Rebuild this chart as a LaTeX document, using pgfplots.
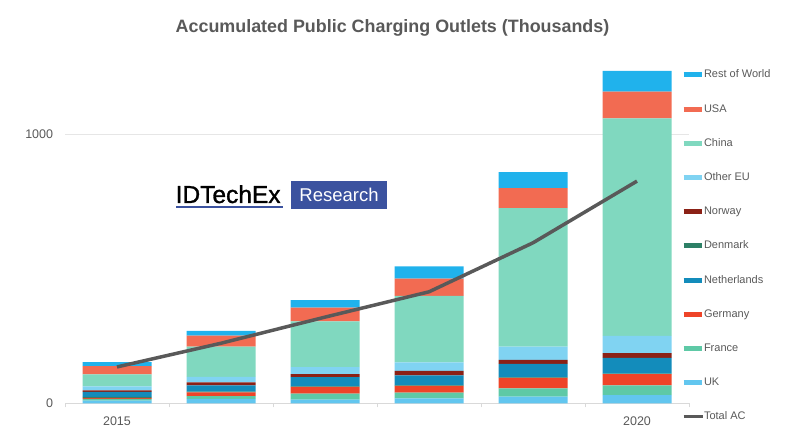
\documentclass[border=0pt]{standalone}
\usepackage{fontspec}
\setmainfont{Liberation Sans}
\newfontfamily\logofont{Liberation Sans}[FakeBold=1.2]
\usepackage{pgfplots}
\pgfplotsset{compat=1.18}
\definecolor{txt}{HTML}{595959}
\definecolor{gridgray}{HTML}{E6E6E6}
\definecolor{axisgray}{HTML}{D9D9D9}
\definecolor{cRoW}{HTML}{20B2EC}
\definecolor{cUSA}{HTML}{F26B52}
\definecolor{cChina}{HTML}{80D8BF}
\definecolor{cOEU}{HTML}{80D3F2}
\definecolor{cNor}{HTML}{8B2116}
\definecolor{cDen}{HTML}{2D8066}
\definecolor{cNed}{HTML}{138CBB}
\definecolor{cGer}{HTML}{EE4428}
\definecolor{cFra}{HTML}{5EC9A6}
\definecolor{cUK}{HTML}{62C6EF}
\definecolor{lineg}{HTML}{595959}
\definecolor{logob}{HTML}{3B529F}
\pgfplotsset{
  legbar/.style={legend image code/.code={\draw[line width=5bp,color=#1] (0bp,0bp) -- (18bp,0bp);}},
  legtot/.style={legend image code/.code={\draw[line width=3bp,color=#1] (0bp,0bp) -- (19bp,0bp);}},
}
\begin{document}
\begin{tikzpicture}
\path[use as bounding box] (0,0) rectangle (800bp,447bp);
\node[anchor=base, inner sep=0pt, text=txt, font=\fontsize{17.9bp}{20bp}\selectfont\bfseries] at (392.5bp,414bp) {Accumulated Public Charging Outlets (Thousands)};
% logo
\node[anchor=base west, inner sep=0pt, text=black, font=\fontsize{24.5bp}{28bp}\logofont] at (175.5bp,244bp) {IDTechEx};
\fill[logob] (176bp,238.5bp) rectangle (283bp,240.5bp);
\fill[logob] (291bp,238bp) rectangle (387bp,266bp);
\node[anchor=base, inner sep=0pt, text=white, font=\fontsize{18.5bp}{20bp}\selectfont] at (339bp,245.4bp) {Research};

\begin{axis}[
  at={(65bp,43.7bp)}, anchor=south west,
  scale only axis, width=624bp, height=344.7bp,
  xmin=-0.5, xmax=5.5, ymin=0, ymax=1280,
  ybar stacked, bar width=69bp,
  axis lines*=left,
  y axis line style={draw=none},
  x axis line style={color=axisgray, line width=0.8bp},
  xtick={0,5}, xticklabels={2015,2020},
  minor xtick={-0.5,0.5,1.5,2.5,3.5,4.5,5.5},
  ytick={0,1000}, yticklabels={0,1000},
  ymajorgrids, grid style={color=gridgray, line width=0.8bp},
  major tick length=0pt, minor tick length=4bp, tick align=outside,
  minor tick style={color=axisgray, line width=0.8bp},
  tick label style={font=\fontsize{12.5bp}{14bp}\selectfont, text=txt, inner sep=0pt},
  xticklabel style={anchor=base, yshift=-22.4bp},
  yticklabel style={anchor=east, xshift=-11.7bp},
  /pgf/number format/assume math mode=true,
  legend style={at={(axis description cs:0.9872,0.970)}, anchor=north west,
    draw=none, fill=none, inner sep=0pt, outer sep=0pt, row sep=22.2bp,
    font=\fontsize{11bp}{13bp}\selectfont, text=txt,
    nodes={inner xsep=0pt, inner ysep=1bp, text height=8bp, text depth=2bp}},
  legend cell align=left,
]
\addlegendimage{legbar=cRoW}\addlegendentry{Rest of World}
\addlegendimage{legbar=cUSA}\addlegendentry{USA}
\addlegendimage{legbar=cChina}\addlegendentry{China}
\addlegendimage{legbar=cOEU}\addlegendentry{Other EU}
\addlegendimage{legbar=cNor}\addlegendentry{Norway}
\addlegendimage{legbar=cDen}\addlegendentry{Denmark}
\addlegendimage{legbar=cNed}\addlegendentry{Netherlands}
\addlegendimage{legbar=cGer}\addlegendentry{Germany}
\addlegendimage{legbar=cFra}\addlegendentry{France}
\addlegendimage{legbar=cUK}\addlegendentry{UK}
\addlegendimage{legtot=lineg}\addlegendentry{Total AC}

\addplot[fill=cUK, draw=none, forget plot] coordinates {(0,10) (1,16) (2,14) (3,18) (4,25) (5,30)};
\addplot[fill=cFra, draw=none, forget plot] coordinates {(0,6) (1,11) (2,22) (3,22) (4,30) (5,37)};
\addplot[fill=cGer, draw=none, forget plot] coordinates {(0,4) (1,14) (2,25) (3,25) (4,39) (5,41)};
\addplot[fill=cDen, draw=none, forget plot] coordinates {(0,4) (1,2) (2,2) (3,2) (4,2) (5,2)};
\addplot[fill=cNed, draw=none, forget plot] coordinates {(0,18) (1,24) (2,34) (3,37) (4,50) (5,59)};
\addplot[fill=cNor, draw=none, forget plot] coordinates {(0,6) (1,11) (2,11) (3,16) (4,15) (5,17)};
\addplot[fill=cOEU, draw=none, forget plot] coordinates {(0,15) (1,20) (2,26) (3,32) (4,49) (5,64)};
\addplot[fill=cChina, draw=none, forget plot] coordinates {(0,44) (1,112) (2,170) (3,247) (4,515) (5,808)};
\addplot[fill=cUSA, draw=none, forget plot] coordinates {(0,31) (1,41) (2,51) (3,64) (4,74) (5,99)};
\addplot[fill=cRoW, draw=none, forget plot] coordinates {(0,15) (1,18) (2,28) (3,45) (4,59) (5,77)};
\end{axis}

\begin{axis}[
  at={(65bp,43.7bp)}, anchor=south west,
  scale only axis, width=624bp, height=344.7bp,
  xmin=-0.5, xmax=5.5, ymin=0, ymax=1280,
  hide axis,
]
\addplot[color=lineg, line width=3.5bp, mark=none] coordinates {(0,135) (1,223) (2,320) (3,414) (4,596) (5,825)};
\end{axis}
\end{tikzpicture}
\end{document}
